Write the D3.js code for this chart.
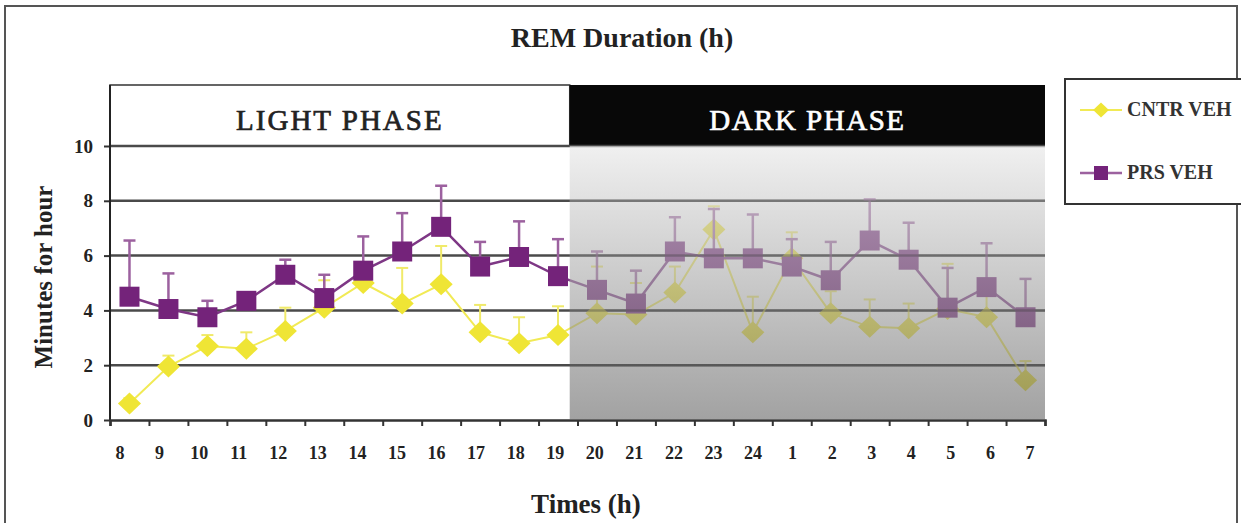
<!DOCTYPE html>
<html>
<head>
<meta charset="utf-8">
<script src="https://cdn.jsdelivr.net/npm/d3@7/dist/d3.min.js"></script>
<style>
  html, body { margin: 0; padding: 0; background: #fff; }
  svg { display: block; font-family: "Liberation Serif", "Times New Roman", serif; }
</style>
</head>
<body>
<svg id="chart" width="1241" height="523"></svg>
<script>
// Hour of recording (light phase starts at 8h)
const hours = ["8","9","10","11","12","13","14","15","16","17","18","19",
               "20","21","22","23","24","1","2","3","4","5","6","7"];

// REM minutes per hour, mean and upper SEM
const cntrMean = [0.6,1.95,2.7,2.6,3.25,4.1,5.0,4.25,4.95,3.2,2.8,3.1,
                  3.9,3.85,4.65,6.95,3.2,5.9,3.9,3.4,3.35,4.05,3.75,1.45];
const cntrSem  = [0.2,0.4,0.4,0.6,0.85,1.0,0.3,1.3,1.4,1.0,0.95,1.05,
                  1.7,1.15,0.95,0.85,1.3,0.95,0.8,1.0,0.9,1.65,0.85,0.7];
const prsMean  = [4.5,4.05,3.75,4.35,5.3,4.45,5.45,6.15,7.05,5.6,5.95,5.25,
                  4.75,4.25,6.15,5.9,5.9,5.6,5.1,6.55,5.85,4.1,4.85,3.75];
const prsSem   = [2.05,1.3,0.6,0.3,0.55,0.85,1.25,1.4,1.5,0.9,1.3,1.35,
                  1.4,1.2,1.25,1.8,1.6,1.0,1.4,1.5,1.35,1.45,1.6,1.4];

const yTicks = [0, 2, 4, 6, 8, 10];
const seriesNames = ["CNTR VEH", "PRS VEH"];
const phaseNames = ["LIGHT PHASE", "DARK PHASE"];
const darkStart = 11.8;   // position (in hour slots) where the dark band begins

const svg = d3.select("#chart");

const plot = { left: 110, right: 1045, top: 146, bottom: 420, headerTop: 85 };

const x = d3.scaleLinear().domain([0, hours.length]).range([plot.left, plot.right]);
const y = d3.scaleLinear().domain([0, 10]).range([plot.bottom, plot.top]);
const xLabel = d3.scalePoint().domain(hours).range([120, 1030]);
const cx = i => x(i + 0.5);

const COLORS = {
  cntr: "#efe535", cntrLine: "#f1ea55", cntrErr: "#f0ea6a",
  prs: "#74237a", prsLine: "#7e3785", prsErr: "#9c619f"
};

// outer frame
svg.append("rect").attr("x", 5).attr("y", 6).attr("width", 1232).attr("height", 540)
  .attr("fill", "none").attr("stroke", "#555").attr("stroke-width", 2);

// title
svg.append("text").attr("x", 622).attr("y", 47).attr("text-anchor", "middle")
  .attr("font-size", 28).attr("font-weight", "bold").attr("fill", "#222")
  .text("REM Duration (h)");

// phase header band
const defs = svg.append("defs");
svg.append("rect").attr("x", plot.left).attr("y", plot.headerTop)
  .attr("width", x(darkStart) - plot.left).attr("height", plot.top - plot.headerTop)
  .attr("fill", "#fff").attr("stroke", "#333").attr("stroke-width", 1.5);
svg.append("rect").attr("x", x(darkStart)).attr("y", plot.headerTop)
  .attr("width", plot.right - x(darkStart)).attr("height", plot.top - plot.headerTop)
  .attr("fill", "#080808");
svg.append("text").attr("x", (plot.left + x(darkStart)) / 2).attr("y", 130)
  .attr("text-anchor", "middle").attr("font-size", 29).attr("letter-spacing", 2)
  .attr("fill", "#222").attr("stroke", "#222").attr("stroke-width", 0.7)
  .text(phaseNames[0]);
svg.append("text").attr("x", (x(darkStart) + plot.right) / 2).attr("y", 130)
  .attr("text-anchor", "middle").attr("font-size", 29).attr("letter-spacing", 1.5)
  .attr("fill", "#fff").attr("stroke", "#fff").attr("stroke-width", 0.7)
  .text(phaseNames[1]);

// horizontal gridlines
svg.append("g").selectAll("line").data(yTicks.filter(d => d > 0)).join("line")
  .attr("x1", plot.left).attr("x2", plot.right)
  .attr("y1", d => y(d)).attr("y2", d => y(d))
  .attr("stroke", "#4a4a4a").attr("stroke-width", 2.5);

// series drawing helper
function drawSeries(mean, sem, lineColor, errColor, markerColor, shape, size, lw) {
  const g = svg.append("g");
  const line = d3.line().x((d, i) => cx(i)).y(d => y(d));
  g.append("path").datum(mean).attr("d", line).attr("fill", "none")
    .attr("stroke", lineColor).attr("stroke-width", lw);
  const eb = g.append("g").attr("stroke", errColor).attr("stroke-width", lw);
  mean.forEach((m, i) => {
    eb.append("line").attr("x1", cx(i)).attr("x2", cx(i))
      .attr("y1", y(m)).attr("y2", y(m + sem[i]));
    eb.append("line").attr("x1", cx(i) - 6).attr("x2", cx(i) + 6)
      .attr("y1", y(m + sem[i])).attr("y2", y(m + sem[i]));
  });
  g.append("g").selectAll("path").data(mean).join("path")
    .attr("transform", (d, i) => `translate(${cx(i)},${y(d)})`)
    .attr("d", d3.symbol().type(shape).size(size)())
    .attr("fill", markerColor);
}

const diamond = {
  draw(ctx, size) {
    const r = Math.sqrt(size) / 2;
    ctx.moveTo(0, -r); ctx.lineTo(r * 1.05, 0); ctx.lineTo(0, r); ctx.lineTo(-r * 1.05, 0); ctx.closePath();
  }
};

drawSeries(cntrMean, cntrSem, COLORS.cntrLine, COLORS.cntrErr, COLORS.cntr, diamond, 22 * 22, 2);
drawSeries(prsMean, prsSem, COLORS.prsLine, COLORS.prsErr, COLORS.prs, d3.symbolSquare, 20 * 20, 2.5);

// translucent shading over the dark phase
const grad = defs.append("linearGradient").attr("id", "darkShade")
  .attr("x1", 0).attr("y1", 0).attr("x2", 0).attr("y2", 1);
grad.append("stop").attr("offset", "0%").attr("stop-color", "rgb(230,230,230)");
grad.append("stop").attr("offset", "100%").attr("stop-color", "rgb(100,100,100)");
svg.append("rect").attr("x", x(darkStart)).attr("y", plot.top)
  .attr("width", plot.right - x(darkStart)).attr("height", plot.bottom - plot.top - 1)
  .attr("fill", "url(#darkShade)").attr("fill-opacity", 0.6);

// gridlines show through the shading a little
svg.append("g").selectAll("line").data(yTicks.filter(d => d > 0 && d < 10)).join("line")
  .attr("x1", x(darkStart)).attr("x2", plot.right)
  .attr("y1", d => y(d)).attr("y2", d => y(d))
  .attr("stroke", "#3a3a3a").attr("stroke-opacity", 0.35).attr("stroke-width", 2.5);

// y axis
const yAxis = svg.append("g").attr("transform", `translate(${plot.left},0)`)
  .call(d3.axisLeft(y).tickValues(yTicks).tickSize(6).tickFormat(d3.format("d")));
yAxis.select(".domain").remove();
yAxis.selectAll(".tick line").attr("stroke", "#333").attr("stroke-width", 2);
yAxis.selectAll(".tick text").attr("font-size", 19).attr("font-weight", "bold")
  .attr("fill", "#222").attr("font-family", "Liberation Serif").attr("x", -17);
svg.append("line").attr("x1", plot.left).attr("x2", plot.left)
  .attr("y1", plot.headerTop).attr("y2", plot.bottom)
  .attr("stroke", "#222").attr("stroke-width", 2);

// x axis with ticks on slot boundaries
const xAxis = svg.append("g").attr("transform", `translate(0,${plot.bottom})`)
  .call(d3.axisBottom(x).tickValues(d3.range(0, hours.length + 1)).tickSize(6).tickFormat(""));
xAxis.select(".domain").attr("stroke", "#333").attr("stroke-width", 2.5);
xAxis.selectAll(".tick line").attr("stroke", "#333").attr("stroke-width", 2);

svg.append("g").selectAll("text").data(hours).join("text")
  .attr("x", d => xLabel(d)).attr("y", 459).attr("text-anchor", "middle")
  .attr("font-size", 18).attr("font-weight", "bold").attr("fill", "#222")
  .text(d => d);

// axis titles
svg.append("text").attr("x", 586).attr("y", 513).attr("text-anchor", "middle")
  .attr("font-size", 27).attr("font-weight", "bold").attr("fill", "#222")
  .text("Times (h)");
svg.append("text").attr("transform", "translate(52,277) rotate(-90)")
  .attr("text-anchor", "middle").attr("font-size", 25).attr("font-weight", "bold")
  .attr("fill", "#222").text("Minutes for hour");

// legend
const lg = svg.append("g");
lg.append("rect").attr("x", 1065).attr("y", 79).attr("width", 200).attr("height", 125)
  .attr("fill", "#fff").attr("stroke", "#333").attr("stroke-width", 2);
const legendRows = [
  { name: seriesNames[0], y: 110, color: COLORS.cntr, line: COLORS.cntrLine, shape: diamond, size: 15 * 15, lw: 2 },
  { name: seriesNames[1], y: 173, color: COLORS.prs, line: COLORS.prsErr, shape: d3.symbolSquare, size: 14 * 14, lw: 2.5 }
];
legendRows.forEach(r => {
  lg.append("line").attr("x1", 1080).attr("x2", 1122).attr("y1", r.y).attr("y2", r.y)
    .attr("stroke", r.line).attr("stroke-width", r.lw);
  lg.append("path").attr("transform", `translate(1101,${r.y})`)
    .attr("d", d3.symbol().type(r.shape).size(r.size)()).attr("fill", r.color);
  lg.append("text").attr("x", 1127).attr("y", r.y + 6).attr("font-size", 20)
    .attr("font-weight", "bold").attr("fill", "#333").text(r.name);
});
</script>
</body>
</html>
